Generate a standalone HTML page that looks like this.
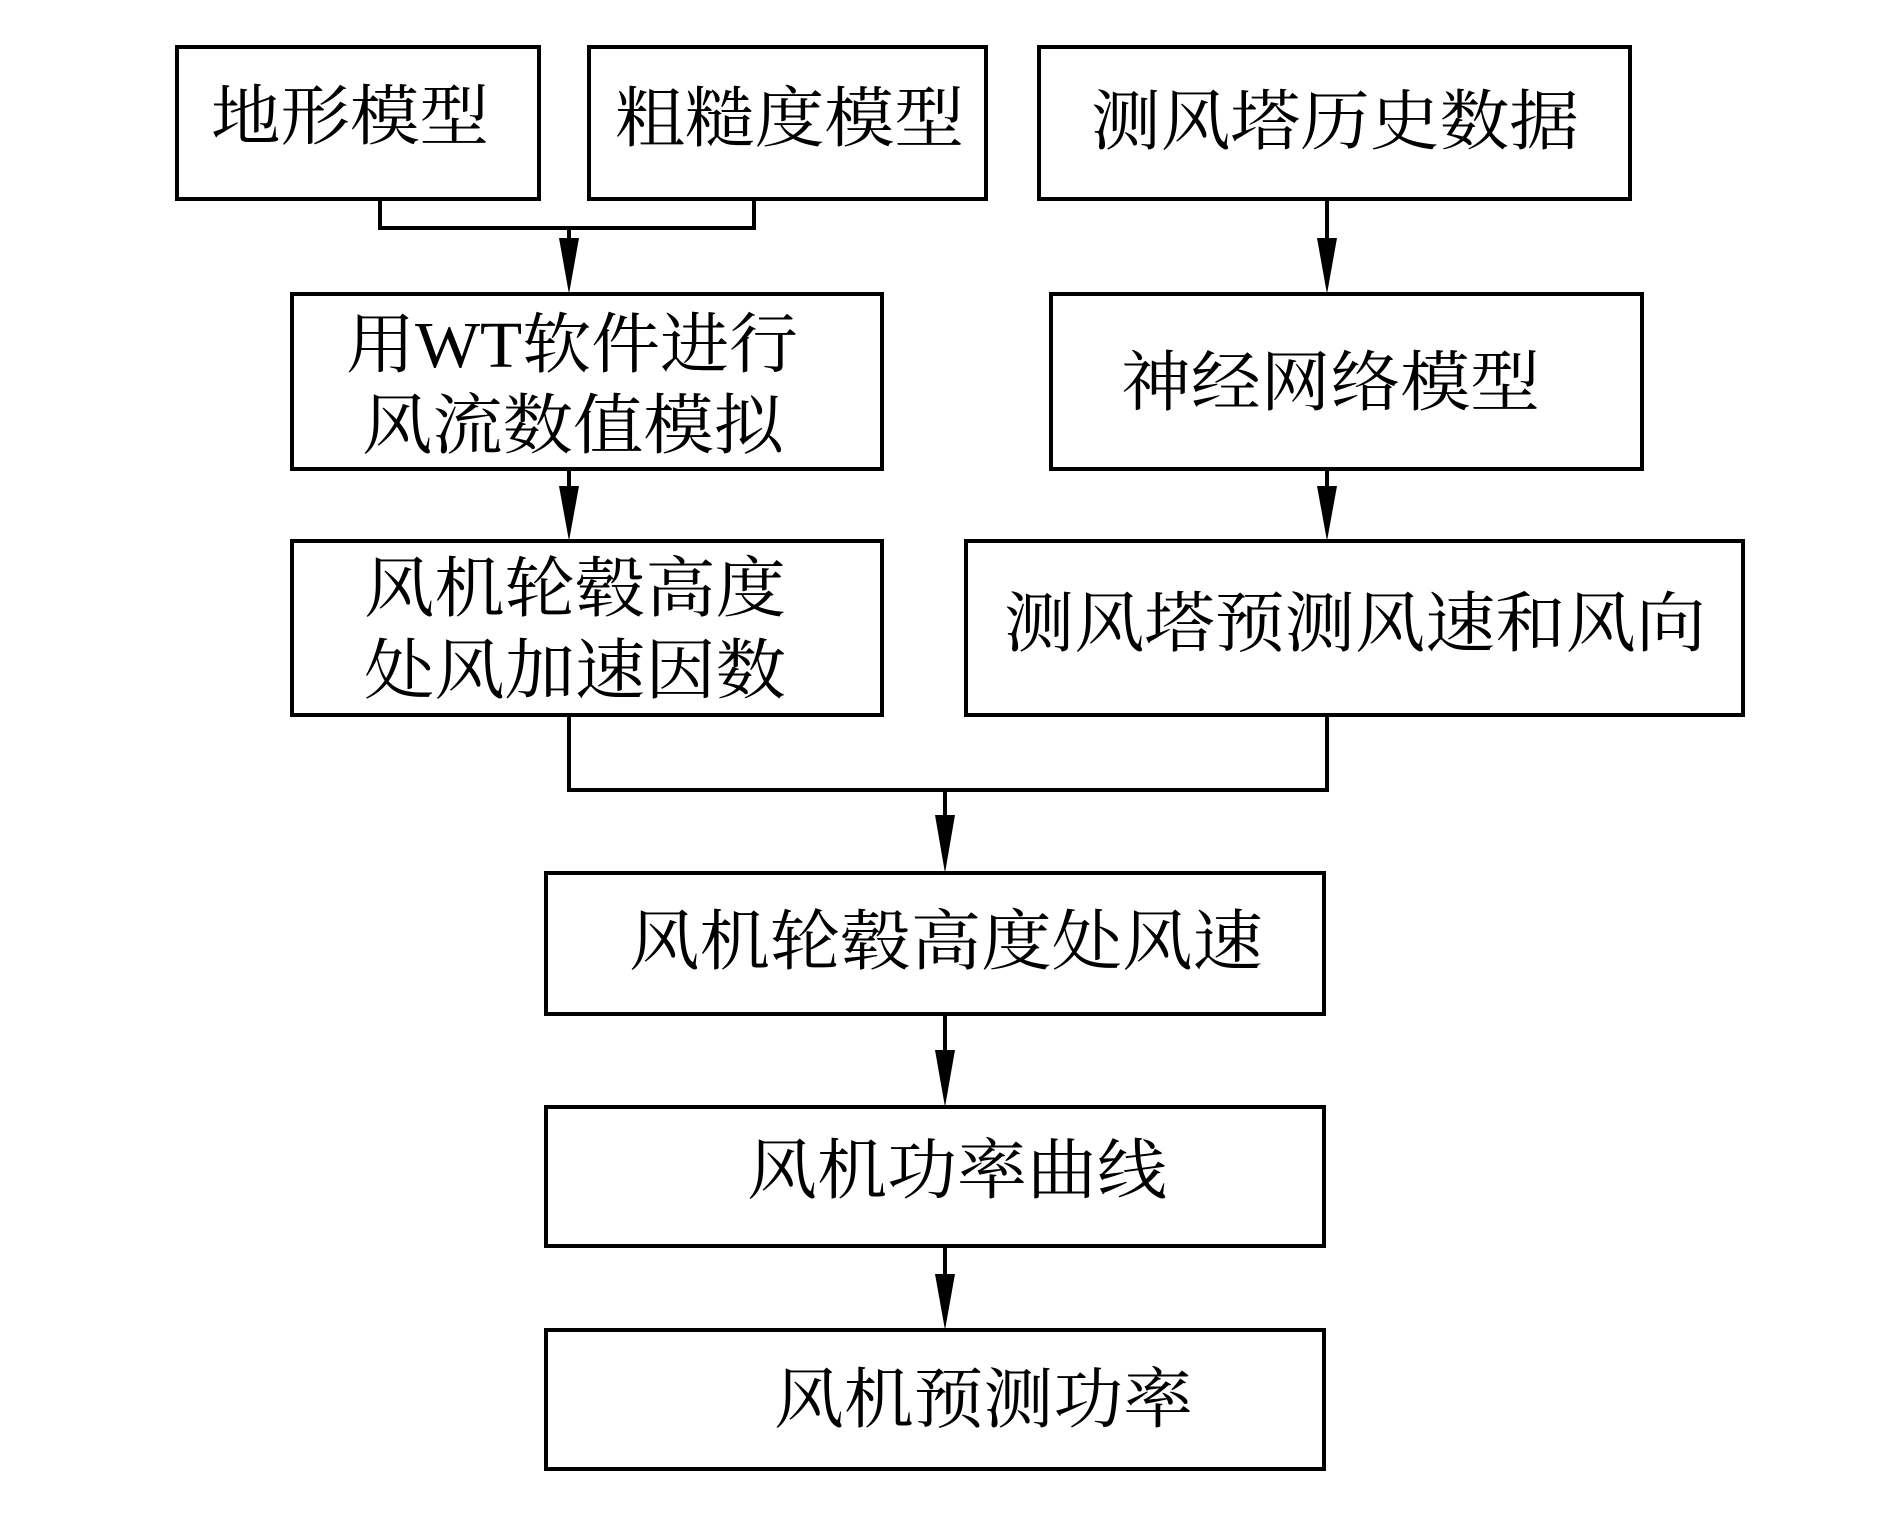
<!DOCTYPE html>
<html><head><meta charset="utf-8"><style>html,body{margin:0;padding:0;background:#fff}svg{display:block}</style></head>
<body>
<svg width="1890" height="1535" viewBox="0 0 1890 1535" xmlns="http://www.w3.org/2000/svg">
<g fill="none" stroke="#000" stroke-width="4">
<rect x="177" y="47" width="362" height="152"/>
<rect x="589" y="47" width="397" height="152"/>
<rect x="1039" y="47" width="591" height="152"/>
<rect x="292" y="294" width="590" height="175"/>
<rect x="1051" y="294" width="591" height="175"/>
<rect x="292" y="541" width="590" height="174"/>
<rect x="966" y="541" width="777" height="174"/>
<rect x="546" y="873" width="778" height="141"/>
<rect x="546" y="1107" width="778" height="139"/>
<rect x="546" y="1330" width="778" height="139"/>
<polyline points="380,199 380,228 754,228 754,199"/>
<line x1="569" y1="228" x2="569" y2="250"/>
<line x1="1327" y1="199" x2="1327" y2="250"/>
<line x1="569" y1="469" x2="569" y2="497"/>
<line x1="1327" y1="469" x2="1327" y2="497"/>
<polyline points="569,715 569,790 1327,790 1327,715"/>
<line x1="945" y1="790" x2="945" y2="828"/>
<line x1="945" y1="1014" x2="945" y2="1060"/>
<line x1="945" y1="1246" x2="945" y2="1285"/>
</g>
<g fill="#000">
<polygon points="559,238 579,238 569,294"/>
<polygon points="1317,238 1337,238 1327,294"/>
<polygon points="559,486 579,486 569,541"/>
<polygon points="1317,486 1337,486 1327,541"/>
<polygon points="935,815 955,815 945,873"/>
<polygon points="935,1050 955,1050 945,1107"/>
<polygon points="935,1274 955,1274 945,1330"/>
</g>
<g font-family="'Liberation Serif','Noto Serif CJK SC',serif" font-size="66" fill="#000">
<text x="211" y="139" textLength="278" lengthAdjust="spacingAndGlyphs">地形模型</text>
<text x="615" y="141" textLength="349" lengthAdjust="spacingAndGlyphs">粗糙度模型</text>
<text x="1091" y="144" textLength="488" lengthAdjust="spacingAndGlyphs">测风塔历史数据</text>
<text x="346" y="367" textLength="452" lengthAdjust="spacingAndGlyphs">用WT软件进行</text>
<text x="362" y="448" textLength="422" lengthAdjust="spacingAndGlyphs">风流数值模拟</text>
<text x="1121" y="405" textLength="419" lengthAdjust="spacingAndGlyphs">神经网络模型</text>
<text x="364" y="611" textLength="422" lengthAdjust="spacingAndGlyphs">风机轮毂高度</text>
<text x="364" y="693" textLength="422" lengthAdjust="spacingAndGlyphs">处风加速因数</text>
<text x="1004" y="646" textLength="702" lengthAdjust="spacingAndGlyphs">测风塔预测风速和风向</text>
<text x="629" y="964" textLength="634" lengthAdjust="spacingAndGlyphs">风机轮毂高度处风速</text>
<text x="747" y="1193" textLength="420" lengthAdjust="spacingAndGlyphs">风机功率曲线</text>
<text x="774" y="1422" textLength="419" lengthAdjust="spacingAndGlyphs">风机预测功率</text>
</g>
</svg>
</body></html>
